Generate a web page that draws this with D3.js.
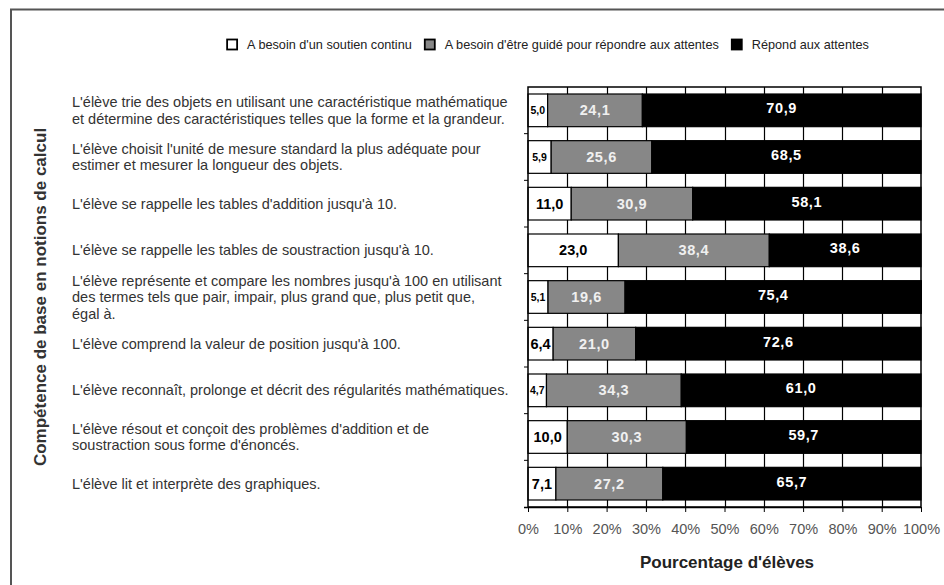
<!DOCTYPE html>
<html><head><meta charset="utf-8">
<script src="https://cdn.jsdelivr.net/npm/d3@7/dist/d3.min.js"></script>
<style>
html,body{margin:0;padding:0;background:#fff;}
svg{display:block;font-family:"Liberation Sans",Arial,sans-serif;}
</style></head>
<body><svg id="c" width="944" height="585"></svg>
<script>
const categories = [
  ["L'élève trie des objets en utilisant une caractéristique mathématique","et détermine des caractéristiques telles que la forme et la grandeur."],
  ["L'élève choisit l'unité de mesure standard la plus adéquate pour","estimer et mesurer la longueur des objets."],
  ["L'élève se rappelle les tables d'addition jusqu'à 10."],
  ["L'élève se rappelle les tables de soustraction jusqu'à 10."],
  ["L'élève représente et compare les nombres jusqu'à 100 en utilisant","des termes tels que pair, impair, plus grand que, plus petit que,","égal à."],
  ["L'élève comprend la valeur de position jusqu'à 100."],
  ["L'élève reconnaît, prolonge et décrit des régularités mathématiques."],
  ["L'élève résout et conçoit des problèmes d'addition et de","soustraction sous forme d'énoncés."],
  ["L'élève lit et interprète des graphiques."]
];
const seriesNames = ["A besoin d'un soutien continu","A besoin d'être guidé pour répondre aux attentes","Répond aux attentes"];
const soutien = [5.0, 5.9, 11.0, 23.0, 5.1, 6.4, 4.7, 10.0, 7.1];
const guide   = [24.1, 25.6, 30.9, 38.4, 19.6, 21.0, 34.3, 30.3, 27.2];
const repond  = [70.9, 68.5, 58.1, 38.6, 75.4, 72.6, 61.0, 59.7, 65.7];
const xTicks = [0,10,20,30,40,50,60,70,80,90,100];
const xTitle = "Pourcentage d'élèves";
const yTitle = "Compétence de base en notions de calcul";

const fills = ["#ffffff", "#878787", "#000000"];
const labelColors = ["#000000", "#f0f0f0", "#ffffff"];

const svg = d3.select("#c");
const L = 528, R = 921, T = 87, B = 507;

// outer frame
svg.append("rect").attr("x", 11).attr("y", 9.5).attr("width", 1000).attr("height", 1000)
  .attr("fill", "none").attr("stroke", "#555").attr("stroke-width", 2);

const idx = categories.map((d, i) => i);
const x = d3.scaleLinear().domain([0, 100]).range([L, R]);
const y = d3.scaleBand().domain(idx).range([T, B]).paddingInner(0.3).paddingOuter(0.15);

// vertical grid
svg.append("g").selectAll("line").data(xTicks.slice(1, -1)).join("line")
  .attr("x1", d => Math.round(x(d)) + 0.5).attr("x2", d => Math.round(x(d)) + 0.5).attr("y1", T).attr("y2", B)
  .attr("stroke", "#000").attr("stroke-width", 1.2);

// stacked bars
const rows = idx.map(i => [soutien[i], guide[i], repond[i]]);
const stack = d3.stack().keys([0, 1, 2])(rows);
const fmt = v => d3.format(".1f")(v).replace(".", ",");

stack.forEach((layer, k) => {
  const g = svg.append("g");
  g.selectAll("rect").data(layer).join("rect")
    .attr("x", d => x(d[0])).attr("y", (d, i) => y(i))
    .attr("width", d => x(d[1]) - x(d[0])).attr("height", y.bandwidth())
    .attr("fill", fills[k]).attr("stroke", "#000").attr("stroke-width", 1.2);
  g.selectAll("text").data(layer).join("text")
    .attr("x", d => (x(d[0]) + x(d[1])) / 2)
    .attr("y", (d, i) => y(i) + y.bandwidth() / 2 - (k === 2 ? 2 : 0))
    .attr("text-anchor", "middle").attr("dominant-baseline", "central")
    .attr("font-weight", "bold")
    .attr("font-size", d => (d[1] - d[0]) < 6 ? 10.5 : 14.5)
    .attr("letter-spacing", k === 0 ? 0 : 0.6)
    .attr("fill", labelColors[k])
    .text(d => fmt(d[1] - d[0]));
});

// plot border
svg.append("rect").attr("x", L).attr("y", T).attr("width", R - L).attr("height", B - T)
  .attr("fill", "none").attr("stroke", "#000").attr("stroke-width", 1.5);

// bottom axis
const xAxis = d3.axisBottom(x).tickValues(xTicks).tickFormat(d => d + "%").tickSize(5).tickPadding(12);
const gx = svg.append("g").attr("transform", `translate(0,${B})`).call(xAxis);
gx.select(".domain").attr("stroke", "#000").attr("stroke-width", 1.5).attr("d", `M${L - 4},0.5H${R}`);
gx.selectAll(".tick line").attr("stroke", "#000");
gx.selectAll(".tick text").attr("fill", "#555").attr("font-size", 14.5)
  .attr("font-family", "Liberation Sans, Arial, sans-serif");

// left ticks at band boundaries
const bounds = idx.slice(1).map(i => y(i) - y.step() * y.paddingInner() / 2);
svg.append("g").selectAll("line").data(bounds).join("line")
  .attr("x1", L - 4).attr("x2", L).attr("y1", d => d).attr("y2", d => d)
  .attr("stroke", "#000").attr("stroke-width", 1);

// category labels
const catG = svg.append("g");
categories.forEach((lines, i) => {
  const cy = y(i) + y.bandwidth() / 2;
  const lh = 16.5;
  const t = catG.append("text").attr("x", 72).attr("fill", "#333").attr("font-size", 14.5);
  lines.forEach((ln, j) => {
    t.append("tspan").attr("x", 72)
      .attr("y", cy + (j - (lines.length - 1) / 2) * lh)
      .attr("dominant-baseline", "central").text(ln);
  });
});

// axis titles
svg.append("text").attr("x", 727).attr("y", 562).attr("text-anchor", "middle")
  .attr("dominant-baseline", "central").attr("font-weight", "bold").attr("font-size", 17)
  .attr("fill", "#222").text(xTitle);
svg.append("text").attr("transform", "translate(40,297) rotate(-90)").attr("text-anchor", "middle")
  .attr("dominant-baseline", "central").attr("font-weight", "bold").attr("font-size", 17)
  .attr("fill", "#333").text(yTitle);

// legend (laid out sequentially, then centred)
const lg = svg.append("g");
let lx = 0;
seriesNames.forEach((name, k) => {
  lg.append("rect").attr("x", lx).attr("y", 39.5).attr("width", 10).attr("height", 10)
    .attr("fill", fills[k]).attr("stroke", "#000").attr("stroke-width", 1.8);
  const t = lg.append("text").attr("x", lx + 20).attr("y", 45).attr("dominant-baseline", "central")
    .attr("font-size", 12.7).attr("fill", "#222").text(name);
  lx += 20 + t.node().getComputedTextLength() + 13;
});
const lw = lx - 13;
lg.attr("transform", `translate(${548 - lw / 2},0)`);
</script></body></html>
